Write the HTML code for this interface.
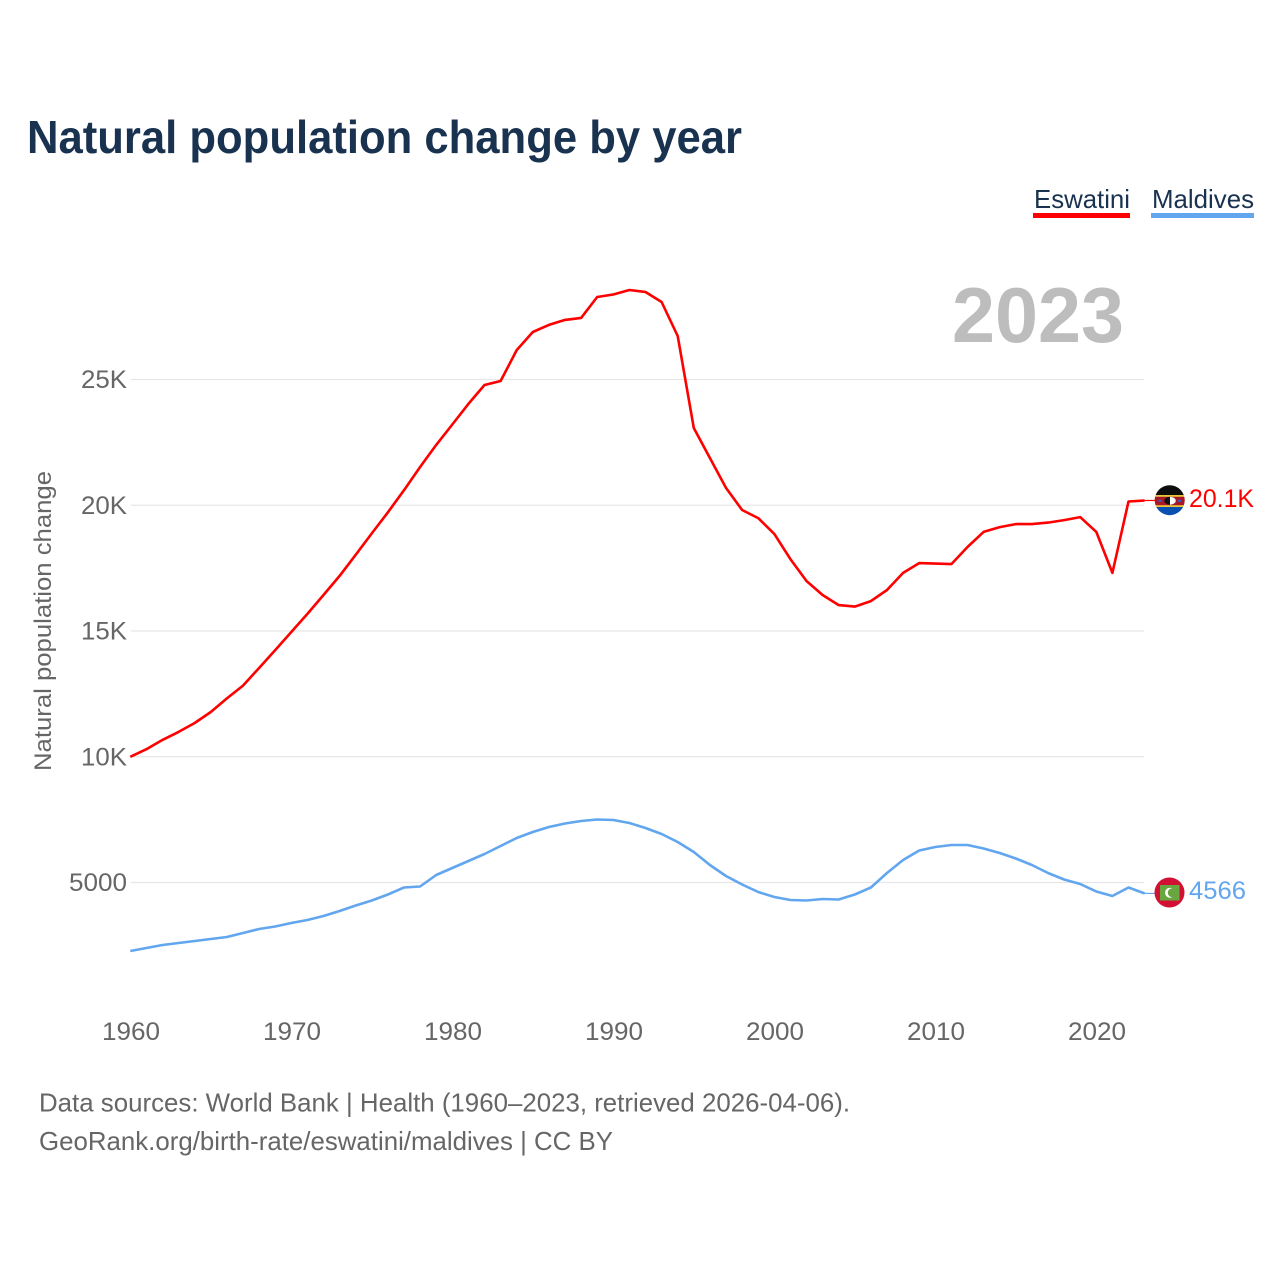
<!DOCTYPE html>
<html lang="en">
<head>
<meta charset="utf-8">
<title>Natural population change by year</title>
<style>
html,body{margin:0;padding:0;background:#fff;width:1280px;height:1280px;overflow:hidden}
svg{display:block}
text{font-family:"Liberation Sans",sans-serif}
</style>
</head>
<body>
<svg id="chart" xmlns="http://www.w3.org/2000/svg" width="1280" height="1280" viewBox="0 0 1280 1280">
  <rect width="1280" height="1280" fill="#fff"/>
  <text x="27" y="153" font-size="46" font-weight="700" fill="#18324f" textLength="715" lengthAdjust="spacingAndGlyphs">Natural population change by year</text>

  <g>
    <text x="1034" y="208" font-size="26" fill="#18324f" textLength="96" lengthAdjust="spacingAndGlyphs">Eswatini</text>
    <rect x="1033" y="213" width="97" height="5" fill="#ff0000"/>
  </g>
  <g>
    <text x="1152" y="208" font-size="26" fill="#18324f" textLength="102" lengthAdjust="spacingAndGlyphs">Maldives</text>
    <rect x="1151" y="213" width="103" height="5" fill="#61a6ee"/>
  </g>

  <text x="952" y="342" font-size="78" font-weight="700" fill="#bdbdbd" textLength="172" lengthAdjust="spacingAndGlyphs">2023</text>

  <g id="grid"></g>
  <g id="ylabels"></g>
  <g id="xlabels"></g>

  <text transform="translate(51,771) rotate(-90)" x="0" y="0" font-size="24" fill="#666" textLength="300" lengthAdjust="spacingAndGlyphs">Natural population change</text>

  <g id="series"></g>

  <defs>
    <clipPath id="clip-sz"><circle cx="1169.7" cy="500.2" r="15"/></clipPath>
    <clipPath id="clip-mv"><circle cx="1169.5" cy="892.5" r="15"/></clipPath>
  </defs>

  <g id="flag-sz" clip-path="url(#clip-sz)">
    <rect x="1154" y="485" width="31" height="10" fill="#0d0d0d"/>
    <rect x="1154" y="495" width="31" height="12" fill="#e8c53a"/>
    <rect x="1154" y="496.8" width="31" height="8.4" fill="#a8182a"/>
    <rect x="1154" y="507" width="31" height="9" fill="#0a50b0"/>
    <ellipse cx="1170" cy="500.8" rx="5.8" ry="3.9" fill="#111"/>
    <path d="M1170 496.9 A5.8 3.9 0 0 1 1170 504.7 Z" fill="#fff"/>
    <rect x="1158.5" y="499.8" width="3" height="2" fill="#3e5eb9"/>
    <rect x="1178" y="499.8" width="3" height="2" fill="#3e5eb9"/>
  </g>
  <g id="flag-mv" clip-path="url(#clip-mv)">
    <rect x="1154" y="877" width="31" height="31" fill="#d21034"/>
    <rect x="1160" y="885" width="19.5" height="15.5" fill="#68a63f"/>
    <circle cx="1170" cy="892.7" r="5" fill="#fff"/>
    <circle cx="1172.3" cy="892.7" r="4.5" fill="#68a63f"/>
  </g>

  <text x="39" y="1111.5" font-size="26" fill="#666" textLength="811" lengthAdjust="spacingAndGlyphs">Data sources: World Bank | Health (1960–2023, retrieved 2026-04-06).</text>
  <text x="39" y="1150" font-size="26" fill="#666" textLength="574" lengthAdjust="spacingAndGlyphs">GeoRank.org/birth-rate/eswatini/maldives | CC BY</text>
</svg>
<script>
const firstYear = 1960;
const eswatini = [10000,10300,10670,10990,11340,11780,12320,12830,13530,14240,14960,15680,16430,17190,18030,18880,19720,20600,21520,22400,23210,24030,24780,24940,26170,26890,27170,27370,27450,28280,28380,28560,28480,28080,26730,23070,21880,20690,19810,19490,18860,17860,16990,16430,16030,15970,16190,16630,17310,17700,17680,17660,18340,18940,19130,19250,19250,19310,19410,19530,18940,17310,20150,20190];
const maldives = [2276,2396,2515,2595,2674,2754,2833,2992,3151,3251,3390,3509,3668,3867,4086,4284,4523,4801,4841,5298,5577,5855,6133,6451,6769,7008,7207,7346,7445,7505,7485,7366,7167,6928,6610,6213,5696,5258,4920,4622,4423,4304,4284,4344,4324,4523,4801,5378,5895,6272,6411,6491,6491,6352,6173,5954,5696,5378,5119,4940,4642,4463,4801,4566];
const yTicks = [5000,10000,15000,20000,25000];
const yTickLabels = ["5000","10K","15K","20K","25K"];
const xTicks = [1960,1970,1980,1990,2000,2010,2020];
const eswatiniLabel = "20.1K";
const maldivesLabel = "4566";

const NS = "http://www.w3.org/2000/svg";
function xScale(year){ return 130.3 + (year - 1960) * 16.1; }
function yScale(v){ return 882.5 - (v - 5000) * 0.02515; }
function make(tag, attrs, parent){
  const el = document.createElementNS(NS, tag);
  for (const k in attrs) el.setAttribute(k, attrs[k]);
  parent.appendChild(el);
  return el;
}
const grid = document.getElementById("grid");
const ylabels = document.getElementById("ylabels");
const xlabels = document.getElementById("xlabels");
const seriesG = document.getElementById("series");
const svg = document.getElementById("chart");

yTicks.forEach(function(t, i){
  const y = yScale(t);
  const line = make("line", {x1:131, x2:1144, y1:y, y2:y, stroke:"#e7e7e7", "stroke-width":1.3}, grid);
  
  
  const label = yTickLabels[i];
  const w = label.length === 4 ? 58 : 46;
  const txt = make("text", {x:127 - w, y:y + 8.5, "font-size":25, fill:"#666", textLength:w, lengthAdjust:"spacingAndGlyphs"}, ylabels);
  txt.textContent = label;
  
  
});

xTicks.forEach(function(t){
  const txt = make("text", {x:xScale(t) - 28.3, y:1040, "font-size":25, fill:"#666", textLength:58, lengthAdjust:"spacingAndGlyphs"}, xlabels);
  txt.textContent = String(t);
  
  
});

function drawSeries(values, color){
  const pts = values.map(function(v, i){ return xScale(firstYear + i).toFixed(1) + "," + yScale(v).toFixed(1); }).join(" ");
  return make("polyline", {points:pts, fill:"none", stroke:color, "stroke-width":2.6, "stroke-linejoin":"round"}, seriesG);
}
const lineE = drawSeries(eswatini, "#ff0000");


const lineM = drawSeries(maldives, "#61a6ee");



const lastX = xScale(firstYear + eswatini.length - 1);
const yE = yScale(eswatini[eswatini.length - 1]);
const yM = yScale(maldives[maldives.length - 1]);

const leadE = make("line", {x1:lastX, x2:1155, y1:yE, y2:yE, stroke:"#ff0000", "stroke-width":1.2}, seriesG);


const leadM = make("line", {x1:lastX, x2:1155, y1:yM, y2:yM, stroke:"#61a6ee", "stroke-width":1.2}, seriesG);



const endE = make("text", {x:1189, y:507, "font-size":25, fill:"#ff0000", textLength:65, lengthAdjust:"spacingAndGlyphs"}, svg);
endE.textContent = eswatiniLabel;


const endM = make("text", {x:1189, y:899, "font-size":25, fill:"#61a6ee", textLength:57, lengthAdjust:"spacingAndGlyphs"}, svg);
endM.textContent = maldivesLabel;


</script>
</body>
</html>
